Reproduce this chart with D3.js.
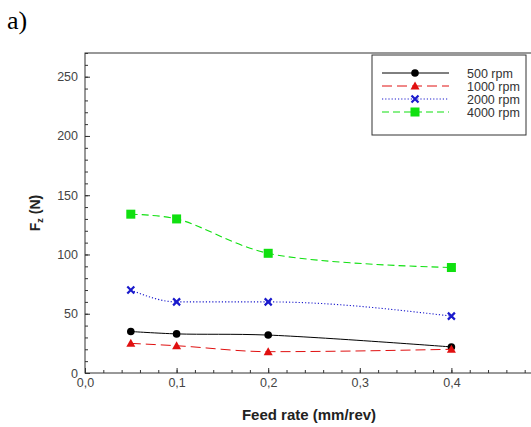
<!DOCTYPE html>
<html><head><meta charset="utf-8">
<script src="https://cdn.jsdelivr.net/npm/d3@7"></script>
<style>body{margin:0;background:#fff}svg{display:block}</style>
</head><body>
<svg id="c" width="531" height="427"></svg>
<script>
const feed = [0.05, 0.1, 0.2, 0.4];
const rpm500 = [35, 33, 32, 22];
const rpm1000 = [25, 23, 18, 20];
const rpm2000 = [70, 60, 60, 48];
const rpm4000 = [134, 130, 101, 89];
const seriesNames = ["500 rpm", "1000 rpm", "2000 rpm", "4000 rpm"];
const xTicks = [0, 0.1, 0.2, 0.3, 0.4];
const yTicks = [0, 50, 100, 150, 200, 250];

const svg = d3.select("#c");
const L = 85, T = 53, B = 373, R = 543;
const x = d3.scaleLinear().domain([0, 0.5]).range([L, R]);
const y = d3.scaleLinear().domain([0, 270]).range([B, T]);
const font = "Liberation Sans, Arial, sans-serif";

svg.append("text").attr("x", 7).attr("y", 29).attr("font-family", "Liberation Serif, Times New Roman, serif")
  .attr("font-size", 26).text("a)");

// frame
svg.append("rect").attr("x", L).attr("y", T).attr("width", R - L).attr("height", B - T)
  .attr("fill", "none").attr("stroke", "#333").attr("stroke-width", 1);

// y axis
const yAx = svg.append("g").attr("transform", `translate(${L},0)`)
  .call(d3.axisRight(y).tickValues(d3.range(0, 271, 10)).tickSize(3).tickFormat(""));
yAx.select(".domain").remove();
yAx.selectAll("line").attr("stroke", "#333");
const yMaj = svg.append("g").attr("transform", `translate(${L},0)`)
  .call(d3.axisLeft(y).tickValues(yTicks).tickSize(0).tickPadding(7));
yMaj.select(".domain").remove();
yMaj.selectAll("text").attr("font-family", font).attr("font-size", 12.5).attr("fill", "#444");
svg.append("g").attr("transform", `translate(${L},0)`)
  .call(d3.axisRight(y).tickValues(yTicks).tickSize(5).tickFormat(""))
  .call(g => { g.select(".domain").remove(); g.selectAll("line").attr("stroke", "#333"); });

// x axis
const xAx = svg.append("g").attr("transform", `translate(0,${B})`)
  .call(d3.axisTop(x).tickValues(d3.range(0, 0.5001, 0.02)).tickSize(3).tickFormat(""));
xAx.select(".domain").remove();
xAx.selectAll("line").attr("stroke", "#333");
const xMaj = svg.append("g").attr("transform", `translate(0,${B})`)
  .call(d3.axisBottom(x).tickValues(xTicks).tickSize(0).tickPadding(5)
    .tickFormat(d => d3.format(".1f")(d).replace(".", ",")));
xMaj.select(".domain").remove();
xMaj.selectAll("text").attr("font-family", font).attr("font-size", 12.5).attr("fill", "#444");
svg.append("g").attr("transform", `translate(0,${B})`)
  .call(d3.axisTop(x).tickValues(xTicks).tickSize(5).tickFormat(""))
  .call(g => { g.select(".domain").remove(); g.selectAll("line").attr("stroke", "#333"); });

// labels
svg.append("text").attr("x", 309).attr("y", 420).attr("text-anchor", "middle")
  .attr("font-family", font).attr("font-size", 15).attr("font-weight", "bold").attr("fill", "#222")
  .text("Feed rate (mm/rev)");
const yl = svg.append("text").attr("transform", "translate(40,213) rotate(-90)").attr("text-anchor", "middle")
  .attr("font-family", font).attr("font-size", 14).attr("font-weight", "bold").attr("fill", "#222");
yl.append("tspan").text("F");
yl.append("tspan").attr("font-size", 9).attr("dy", 3).text("z");
yl.append("tspan").attr("dy", -3).text(" (N)");

const styles = [
  {data: rpm500, color: "#000", dash: null, width: 1, marker: "circle", curve: d3.curveCatmullRom.alpha(0.5)},
  {data: rpm1000, color: "#e01010", dash: "10,5", width: 1, marker: "triangle", curve: d3.curveMonotoneX},
  {data: rpm2000, color: "#1a1acc", dash: "1.2,2", width: 1.1, marker: "x", curve: d3.curveMonotoneX},
  {data: rpm4000, color: "#10e010", dash: "7,4", width: 1.1, marker: "square", curve: d3.curveCatmullRom.alpha(0.5)}
];

function drawMarker(g, type, cx, cy, color) {
  if (type === "circle") g.append("circle").attr("cx", cx).attr("cy", cy).attr("r", 3.8).attr("fill", color);
  else if (type === "triangle") g.append("path").attr("d", `M${cx},${cy-4.5}L${cx+4.5},${cy+3.5}L${cx-4.5},${cy+3.5}Z`).attr("fill", color);
  else if (type === "square") g.append("rect").attr("x", cx - 4.5).attr("y", cy - 4.5).attr("width", 9).attr("height", 9).attr("fill", color);
  else if (type === "x") g.append("path").attr("d", `M${cx-3.5},${cy-3.5}L${cx+3.5},${cy+3.5}M${cx+3.5},${cy-3.5}L${cx-3.5},${cy+3.5}`)
    .attr("stroke", color).attr("stroke-width", 2.2).attr("fill", "none");
}

styles.forEach(s => {
  const line = d3.line().x((d, i) => x(feed[i])).y(d => y(d)).curve(s.curve);
  svg.append("path").attr("d", line(s.data)).attr("fill", "none").attr("stroke", s.color)
    .attr("stroke-width", s.width).attr("stroke-dasharray", s.dash);
  const g = svg.append("g");
  s.data.forEach((v, i) => drawMarker(g, s.marker, x(feed[i]), y(v), s.color));
});

// legend
const lg = svg.append("g");
lg.append("rect").attr("x", 372).attr("y", 55).attr("width", 154).attr("height", 80)
  .attr("fill", "#fff").attr("stroke", "#333").attr("stroke-width", 1);
styles.forEach((s, i) => {
  const ly = 73 + i * 13;
  lg.append("line").attr("x1", 382).attr("x2", 449).attr("y1", ly).attr("y2", ly)
    .attr("stroke", s.color).attr("stroke-width", s.width).attr("stroke-dasharray", s.dash);
  drawMarker(lg, s.marker, 415, ly, s.color);
  lg.append("text").attr("x", 467).attr("y", ly + 4.5).attr("font-family", font).attr("font-size", 12.5)
    .attr("fill", "#333").text(seriesNames[i]);
});
</script>
</body></html>
